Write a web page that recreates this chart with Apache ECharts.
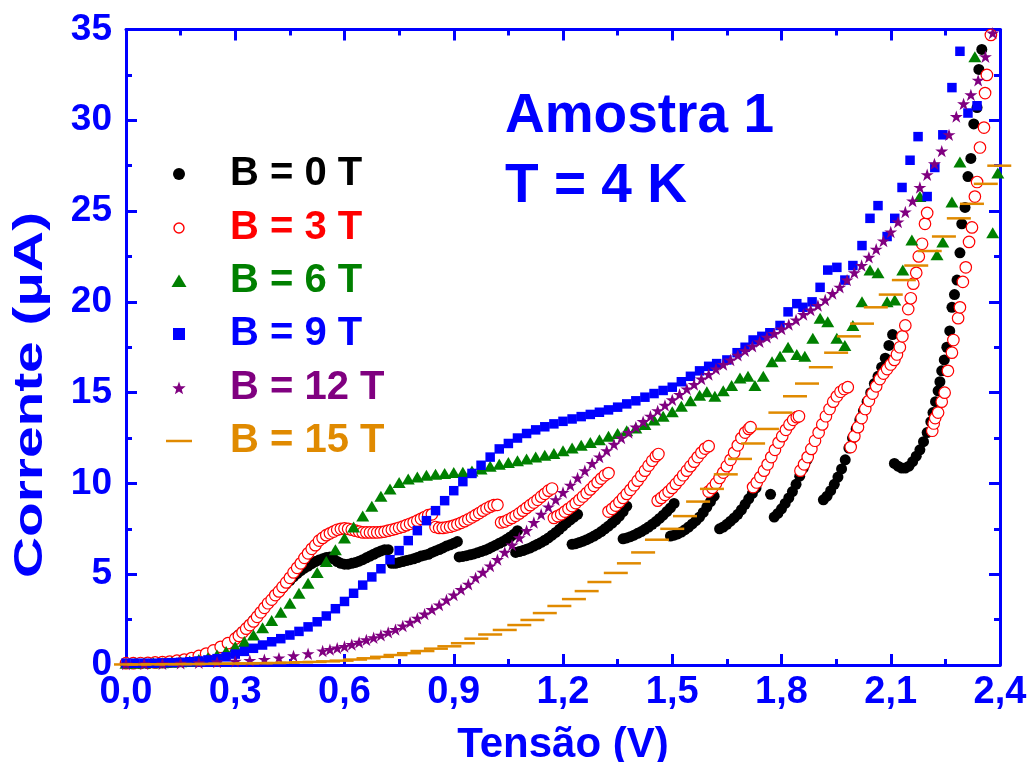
<!DOCTYPE html>
<html>
<head>
<meta charset="utf-8">
<script src="https://cdn.jsdelivr.net/npm/echarts@6/dist/echarts.min.js"></script>
<style>
  html, body { margin: 0; padding: 0; background: #fff; }
  #chart { width: 1033px; height: 762px; }
</style>
</head>
<body>
<div id="chart"></div>
<script>
// I-V curves of sample 1 at 4 K for several magnetic fields: [tensão (V), corrente (µA)]
const seriesNames = ['B = 0 T', 'B = 3 T', 'B = 6 T', 'B = 9 T', 'B = 12 T', 'B = 15 T'];
const seriesColors = ['#000000', '#ff0000', '#008000', '#0000ff', '#800080', '#e08a00'];

const xTickLabels = ['0,0', '0,3', '0,6', '0,9', '1,2', '1,5', '1,8', '2,1', '2,4'];
const yTickLabels = ['0', '5', '10', '15', '20', '25', '30', '35'];

const currentB0 = [
  [0.00,0.08],[0.02,0.09],[0.04,0.10],[0.06,0.11],[0.08,0.12],[0.10,0.14],[0.12,0.17],[0.14,0.21],
  [0.16,0.27],[0.18,0.35],[0.20,0.45],[0.22,0.58],[0.24,0.75],[0.26,0.95],[0.28,1.20],[0.30,1.50],
  [0.31,1.67],[0.32,1.85],[0.33,2.05],[0.34,2.25],[0.35,2.47],[0.36,2.70],[0.37,2.92],[0.38,3.15],
  [0.39,3.38],[0.40,3.60],[0.41,3.82],[0.42,4.05],[0.43,4.25],[0.44,4.45],[0.45,4.65],[0.46,4.85],
  [0.47,5.03],[0.48,5.20],[0.49,5.33],[0.50,5.45],[0.51,5.58],[0.52,5.70],[0.53,5.78],[0.54,5.85],
  [0.55,5.92],[0.56,5.95],
  [0.57,5.85],[0.58,5.70],[0.59,5.60],[0.60,5.55],[0.61,5.55],[0.62,5.60],[0.63,5.65],[0.64,5.72],
  [0.65,5.80],[0.66,5.90],[0.67,6.00],[0.68,6.10],[0.69,6.20],[0.70,6.28],[0.71,6.35],[0.72,6.35],
  [0.73,5.60],[0.74,5.60],[0.75,5.65],[0.76,5.70],[0.77,5.75],[0.78,5.80],[0.79,5.85],[0.80,5.92],
  [0.81,6.00],[0.82,6.05],[0.83,6.10],[0.84,6.20],[0.85,6.28],[0.86,6.36],[0.87,6.45],[0.88,6.55],
  [0.89,6.62],[0.90,6.70],[0.91,6.80],
  [0.915,5.95],[0.925,5.98],[0.935,6.02],[0.945,6.07],[0.955,6.12],[0.965,6.18],[0.975,6.25],[0.985,6.32],
  [0.995,6.40],[1.005,6.50],[1.015,6.60],[1.025,6.70],[1.035,6.80],[1.045,6.92],[1.055,7.05],[1.065,7.20],
  [1.075,7.40],
  [1.07,6.20],[1.08,6.25],[1.09,6.30],[1.10,6.38],[1.11,6.45],[1.12,6.55],[1.13,6.65],[1.14,6.75],
  [1.15,6.87],[1.16,7.00],[1.17,7.15],[1.18,7.30],[1.19,7.47],[1.20,7.65],[1.21,7.83],[1.22,8.00],
  [1.23,8.15],[1.24,8.30],
  [1.225,6.65],[1.235,6.68],[1.245,6.75],[1.255,6.82],[1.265,6.90],[1.275,7.00],[1.285,7.10],[1.295,7.22],
  [1.305,7.35],[1.315,7.50],[1.325,7.65],[1.335,7.82],[1.345,8.00],[1.355,8.20],[1.365,8.45],[1.375,8.75],
  [1.365,6.95],[1.375,7.00],[1.385,7.07],[1.395,7.15],[1.405,7.25],[1.415,7.35],[1.425,7.47],[1.435,7.60],
  [1.445,7.75],[1.455,7.90],[1.465,8.07],[1.475,8.25],[1.485,8.45],[1.495,8.65],[1.505,8.90],
  [1.495,7.10],[1.505,7.15],[1.515,7.22],[1.525,7.32],[1.535,7.45],[1.545,7.60],[1.555,7.77],[1.565,7.95],
  [1.575,8.15],[1.585,8.40],[1.595,8.70],[1.605,9.00],[1.615,9.30],
  [1.63,7.50],[1.64,7.60],[1.65,7.75],[1.66,7.92],[1.67,8.10],[1.68,8.30],[1.69,8.55],[1.70,8.85],
  [1.71,9.15],[1.72,9.45],[1.73,9.75],
  [1.77,9.40],
  [1.78,8.15],[1.79,8.35],[1.80,8.60],[1.81,8.90],[1.82,9.20],[1.83,9.55],[1.84,9.95],[1.85,10.40],
  [1.86,10.85],[1.87,11.30],
  [1.915,9.10],[1.925,9.30],[1.935,9.60],[1.945,9.95],[1.955,10.35],[1.965,10.80],[1.975,11.30],[1.985,11.95],
  [1.995,12.50],[2.005,13.00],[2.015,13.50],[2.025,14.00],[2.035,14.50],[2.045,15.00],[2.055,15.50],[2.065,15.90],
  [2.075,16.40],[2.085,16.90],[2.095,17.60],[2.105,18.20],
  [2.11,11.10],[2.12,10.95],[2.13,10.85],[2.14,10.85],[2.15,10.95],[2.16,11.20],[2.17,11.50],[2.18,11.85],
  [2.19,12.30],[2.20,12.80],[2.21,13.40],[2.216,13.90],[2.223,14.50],[2.23,15.10],[2.235,15.60],[2.24,16.20],
  [2.247,16.80],[2.254,17.50],[2.262,18.40],[2.268,19.70],[2.275,20.40],[2.282,21.20],[2.29,22.70],[2.295,24.30],
  [2.304,25.20],[2.312,26.90],[2.32,27.90],[2.328,29.80],[2.337,30.70],[2.342,32.80],[2.35,33.90]
];

const currentB3 = [
  [0.00,0.10],[0.02,0.10],[0.04,0.11],[0.06,0.12],[0.08,0.14],[0.10,0.16],[0.12,0.19],[0.14,0.24],
  [0.16,0.30],[0.18,0.38],[0.20,0.50],[0.22,0.63],[0.24,0.80],[0.26,1.00],[0.28,1.20],[0.30,1.45],
  [0.31,1.60],[0.32,1.80],[0.33,2.00],[0.34,2.20],[0.35,2.40],[0.36,2.65],[0.37,2.90],[0.38,3.15],
  [0.39,3.40],[0.40,3.60],[0.41,3.85],[0.42,4.05],[0.43,4.30],[0.44,4.55],[0.45,4.80],[0.46,5.10],
  [0.47,5.35],[0.48,5.60],[0.49,5.90],[0.50,6.15],[0.51,6.40],[0.52,6.60],[0.53,6.85],[0.54,7.00],
  [0.55,7.15],[0.56,7.25],[0.57,7.35],[0.58,7.45],[0.59,7.50],[0.60,7.52],[0.61,7.50],[0.62,7.45],
  [0.63,7.40],[0.64,7.35],[0.65,7.30],[0.66,7.30],[0.67,7.30],[0.68,7.30],[0.69,7.30],[0.70,7.32],
  [0.71,7.35],[0.72,7.40],[0.73,7.45],[0.74,7.50],[0.75,7.56],[0.76,7.62],[0.77,7.70],[0.78,7.78],
  [0.79,7.86],[0.80,7.95],[0.81,8.05],[0.82,8.15],[0.83,8.25],[0.84,8.30],
  [0.85,7.60],[0.86,7.55],[0.87,7.55],[0.88,7.58],[0.89,7.62],[0.90,7.68],[0.91,7.75],[0.92,7.83],
  [0.93,7.92],[0.94,8.02],[0.95,8.13],[0.96,8.25],[0.97,8.37],[0.98,8.50],[0.99,8.62],[1.00,8.72],
  [1.01,8.80],[1.02,8.82],
  [1.03,7.85],[1.04,7.90],[1.05,8.00],[1.06,8.10],[1.07,8.22],[1.08,8.35],[1.09,8.50],[1.10,8.65],
  [1.11,8.80],[1.12,8.95],[1.13,9.10],[1.14,9.27],[1.15,9.43],[1.16,9.60],[1.17,9.72],
  [1.175,8.10],[1.185,8.20],[1.195,8.30],[1.205,8.45],[1.215,8.60],[1.225,8.75],[1.235,8.92],[1.245,9.10],
  [1.255,9.28],[1.265,9.47],[1.275,9.67],[1.285,9.87],[1.295,10.07],[1.305,10.27],[1.315,10.45],[1.325,10.57],
  [1.325,8.45],[1.335,8.60],[1.345,8.78],[1.355,8.98],[1.365,9.20],[1.375,9.42],[1.385,9.65],[1.395,9.90],
  [1.405,10.15],[1.415,10.42],[1.425,10.70],[1.435,10.98],[1.445,11.25],[1.455,11.50],[1.462,11.62],
  [1.46,9.05],[1.47,9.20],[1.48,9.37],[1.49,9.55],[1.50,9.75],[1.51,9.97],[1.52,10.20],[1.53,10.45],
  [1.54,10.70],[1.55,10.95],[1.56,11.20],[1.57,11.45],[1.58,11.70],[1.59,11.92],[1.60,12.05],
  [1.60,9.55],[1.61,9.75],[1.62,10.00],[1.63,10.30],[1.64,10.60],[1.65,10.95],[1.66,11.30],[1.67,11.70],
  [1.68,12.10],[1.69,12.50],[1.70,12.80],[1.71,13.00],[1.715,13.10],
  [1.722,9.80],[1.732,10.05],[1.742,10.35],[1.752,10.70],[1.762,11.05],[1.772,11.45],[1.782,11.85],[1.792,12.25],
  [1.802,12.60],[1.812,12.95],[1.822,13.25],[1.832,13.50],[1.842,13.65],[1.848,13.70],
  [1.852,10.70],[1.862,11.05],[1.872,11.45],[1.882,11.90],[1.892,12.35],[1.902,12.80],[1.912,13.25],[1.922,13.70],
  [1.932,14.10],[1.942,14.50],[1.952,14.80],[1.962,15.05],[1.972,15.20],[1.982,15.30],
  [1.99,12.00],[2.00,12.60],[2.01,13.10],[2.02,13.60],[2.03,14.10],[2.04,14.55],[2.05,14.95],[2.06,15.35],
  [2.07,15.75],[2.08,16.05],[2.09,16.30],[2.10,16.55],[2.11,16.80],[2.117,17.10],[2.125,17.50],[2.132,18.10],
  [2.14,18.70],[2.148,19.60],[2.155,20.20],[2.162,21.00],[2.17,21.60],[2.177,22.50],[2.186,23.20],[2.194,24.30],
  [2.20,24.90],
  [2.214,12.90],[2.218,13.30],[2.222,13.60],[2.23,13.90],[2.24,14.50],[2.248,15.00],[2.257,16.20],[2.268,17.20],
  [2.272,17.90],[2.285,19.10],[2.29,19.70],[2.298,21.10],[2.306,21.90],[2.315,23.30],[2.323,24.10],[2.331,25.80],
  [2.337,26.60],[2.345,28.50],[2.356,29.60],[2.359,31.50],[2.364,32.50],[2.375,34.70]
];

const currentB6 = [
  [0.000,0.10],[0.025,0.10],[0.050,0.11],[0.075,0.12],[0.100,0.13],[0.125,0.15],[0.150,0.18],[0.175,0.22],
  [0.200,0.30],[0.225,0.40],[0.250,0.55],[0.275,0.75],[0.300,1.00],[0.325,1.30],[0.350,1.65],[0.375,2.05],
  [0.400,2.45],[0.425,2.90],[0.450,3.40],[0.475,3.95],[0.500,4.50],[0.525,5.10],[0.550,5.70],[0.575,6.35],
  [0.600,7.00],[0.625,7.60],[0.650,8.20],[0.675,8.75],[0.700,9.30],[0.725,9.70],[0.750,10.05],[0.775,10.25],
  [0.800,10.35],[0.825,10.45],[0.850,10.50],[0.875,10.55],[0.900,10.60],[0.925,10.62],[0.950,10.68],[0.975,10.80],
  [1.000,10.95],[1.025,11.05],[1.050,11.15],[1.075,11.25],[1.100,11.35],[1.125,11.45],[1.150,11.55],[1.175,11.65],
  [1.200,11.80],[1.225,11.95],[1.250,12.10],[1.275,12.25],[1.300,12.40],[1.325,12.60],[1.350,12.75],[1.375,12.90],
  [1.400,13.05],[1.425,13.25],[1.450,13.50],[1.475,13.70],[1.500,13.95],[1.525,14.25],[1.550,14.55],[1.575,14.85],
  [1.595,15.05],[1.617,14.80],[1.640,15.10],[1.663,15.40],[1.686,15.80],[1.708,15.90],[1.727,15.40],[1.750,15.90],
  [1.774,16.70],[1.796,17.00],[1.818,17.50],[1.842,17.10],[1.864,17.00],[1.886,18.00],[1.906,19.10],[1.927,18.90],
  [1.952,18.00],[1.974,17.60],[1.996,18.70],[2.021,20.00],[2.043,21.75],[2.065,21.60],[2.090,20.00],[2.111,20.10],
  [2.133,21.75],[2.158,23.40],[2.180,25.80],[2.227,22.60],[2.243,23.30],[2.268,25.50],[2.290,27.70],[2.331,33.50],
  [2.380,23.80],[2.394,27.10]
];

const currentB9 = [
  [0.000,0.10],[0.025,0.10],[0.050,0.10],[0.075,0.10],[0.100,0.12],[0.125,0.13],[0.150,0.15],[0.175,0.18],
  [0.200,0.22],[0.225,0.28],[0.250,0.35],[0.275,0.45],[0.300,0.60],[0.325,0.75],[0.350,0.92],[0.375,1.10],
  [0.400,1.28],[0.425,1.45],[0.450,1.65],[0.475,1.85],[0.500,2.10],[0.525,2.38],[0.550,2.70],[0.575,3.10],
  [0.600,3.50],[0.625,3.95],[0.650,4.40],[0.675,4.85],[0.700,5.30],[0.725,5.80],[0.750,6.30],[0.775,6.85],
  [0.800,7.40],[0.825,7.95],[0.850,8.50],[0.875,9.05],[0.900,9.60],[0.925,10.10],[0.950,10.55],[0.975,11.00],
  [1.000,11.45],[1.025,11.90],[1.050,12.20],[1.075,12.50],[1.100,12.75],[1.125,12.95],[1.150,13.12],[1.175,13.28],
  [1.200,13.42],[1.225,13.55],[1.250,13.68],[1.275,13.80],[1.300,13.92],[1.325,14.05],[1.350,14.20],[1.375,14.38],
  [1.400,14.55],[1.425,14.75],[1.450,14.95],[1.475,15.12],[1.500,15.30],[1.525,15.60],[1.550,15.90],[1.575,16.20],
  [1.600,16.45],[1.622,16.60],[1.650,16.80],[1.678,17.20],[1.700,17.50],[1.722,17.90],[1.746,18.10],[1.768,18.30],
  [1.796,18.70],[1.818,19.45],[1.842,19.90],[1.859,19.70],[1.884,20.00],[1.906,20.80],[1.927,21.75],[1.952,21.90],
  [1.974,21.20],[1.996,22.00],[2.021,23.10],[2.043,24.60],[2.065,25.30],[2.090,23.60],[2.111,24.60],[2.131,26.30],
  [2.153,27.80],[2.175,29.10],[2.200,25.80],[2.221,27.40],[2.243,29.20],[2.268,31.80],[2.290,33.80],[2.312,30.40],
  [2.337,30.80]
];

const currentB12 = [
  [0.00,0.05],[0.05,0.06],[0.10,0.07],[0.15,0.09],[0.20,0.12],[0.25,0.16],[0.30,0.20],[0.34,0.25],
  [0.38,0.30],[0.42,0.38],[0.46,0.50],[0.50,0.62],[0.54,0.77],[0.56,0.85],[0.58,0.93],[0.60,1.02],
  [0.62,1.12],[0.64,1.25],[0.66,1.38],[0.68,1.50],[0.70,1.64],[0.72,1.80],[0.74,1.95],[0.76,2.15],
  [0.78,2.35],[0.80,2.57],[0.82,2.80],[0.84,3.05],[0.86,3.30],[0.88,3.58],[0.90,3.85],[0.92,4.15],
  [0.94,4.45],[0.96,4.80],[0.98,5.10],[1.00,5.45],[1.02,5.80],[1.04,6.20],[1.06,6.60],[1.08,7.00],
  [1.10,7.40],[1.12,7.85],[1.14,8.30],[1.16,8.70],[1.18,9.10],[1.20,9.50],[1.22,9.90],[1.24,10.30],
  [1.26,10.70],[1.28,11.10],[1.30,11.45],[1.32,11.80],[1.34,12.15],[1.36,12.50],[1.38,12.80],[1.40,13.10],
  [1.42,13.40],[1.44,13.70],[1.46,14.00],[1.48,14.30],[1.50,14.60],[1.52,14.90],[1.54,15.20],[1.56,15.45],
  [1.58,15.75],[1.60,16.00],[1.62,16.30],[1.64,16.55],[1.66,16.80],[1.68,17.05],[1.70,17.30],[1.72,17.55],
  [1.74,17.80],[1.76,18.05],[1.78,18.25],[1.80,18.50],[1.82,18.75],[1.84,19.00],[1.86,19.30],[1.88,19.55],
  [1.90,19.80],[1.92,20.10],[1.94,20.45],[1.96,20.80],[1.98,21.20],[2.00,21.60],[2.02,22.00],[2.04,22.45],
  [2.06,22.90],[2.08,23.35],[2.10,23.85],[2.12,24.40],[2.14,24.95],[2.16,25.55],[2.18,26.30],[2.20,27.00],
  [2.22,27.60],[2.24,28.30],[2.26,29.20],[2.28,30.20],[2.30,30.90],[2.32,31.40],[2.34,32.20],[2.36,33.50],
  [2.38,34.80]
];

const currentB15 = [
  [0.000,0.03],[0.037,0.03],[0.074,0.04],[0.111,0.04],[0.148,0.05],[0.185,0.05],[0.222,0.06],[0.259,0.07],
  [0.296,0.08],[0.333,0.09],[0.370,0.10],[0.407,0.11],[0.444,0.13],[0.481,0.15],[0.518,0.17],[0.555,0.20],
  [0.592,0.24],[0.629,0.30],[0.666,0.37],[0.703,0.45],[0.740,0.55],[0.777,0.65],[0.814,0.77],[0.851,0.90],
  [0.888,1.03],[0.925,1.20],[0.962,1.45],[1.000,1.68],[1.040,1.93],[1.080,2.20],[1.116,2.48],[1.150,2.86],
  [1.190,3.25],[1.230,3.63],[1.265,4.07],[1.300,4.57],[1.345,5.07],[1.381,5.60],[1.420,6.20],[1.458,6.90],
  [1.500,7.50],[1.535,8.20],[1.571,9.00],[1.609,9.70],[1.647,10.50],[1.686,11.35],[1.722,12.20],[1.760,13.00],
  [1.797,13.90],[1.837,14.80],[1.870,15.50],[1.908,16.40],[1.950,17.20],[1.985,18.10],[2.021,18.80],[2.059,19.70],
  [2.100,20.40],[2.136,21.20],[2.170,22.00],[2.207,22.80],[2.246,23.60],[2.287,24.60],[2.323,25.40],[2.361,26.50],
  [2.398,27.50]
];

const seriesData = [currentB0, currentB3, currentB6, currentB9, currentB12, currentB15];

const FONT = '"Liberation Sans", Arial, Helvetica, sans-serif';
const AXIS_BLUE = '#0000ff';
const STAR = 'path://M50,0L61.8,35.4L100,35.4L69.1,57.3L80.9,95L50,72L19.1,95L30.9,57.3L0,35.4L38.2,35.4Z';

// marker look of each field curve
const markers = [
  { symbol: 'circle', size: 11, style: { color: '#000000' } },
  { symbol: 'circle', size: 11.5, style: { color: '#ffffff', borderColor: '#ff0000', borderWidth: 1.2 } },
  { symbol: 'triangle', size: [13, 11], style: { color: '#008000' } },
  { symbol: 'rect', size: 9.5, style: { color: '#0000ff' } },
  { symbol: STAR, size: 13, style: { color: '#800080' } },
  { symbol: 'rect', size: [24, 2.5], style: { color: '#e08a00' } }
];

// legend block at the upper left: marker sample + coloured label per row
const legendRowCenters = [174, 228, 281, 334, 388, 441];
const LEGEND_MARK_X = 179;
const LEGEND_TEXT_X = 230;

function starPoints(cx, cy, rOuter, rInner) {
  const pts = [];
  for (let k = 0; k < 10; k++) {
    const r = k % 2 === 0 ? rOuter : rInner;
    const a = -Math.PI / 2 + k * Math.PI / 5;
    pts.push([cx + r * Math.cos(a), cy + r * Math.sin(a)]);
  }
  return pts;
}

function legendMark(i, cy) {
  const x = LEGEND_MARK_X;
  const c = seriesColors[i];
  switch (i) {
    case 0: return { type: 'circle', shape: { cx: x, cy: cy, r: 6 }, style: { fill: c } };
    case 1: return { type: 'circle', shape: { cx: x, cy: cy, r: 5 }, style: { fill: '#ffffff', stroke: c, lineWidth: 1.4 } };
    case 2: return { type: 'polygon', shape: { points: [[x - 7.5, cy + 6], [x + 7.5, cy + 6], [x, cy - 6.5]] }, style: { fill: c } };
    case 3: return { type: 'rect', shape: { x: x - 6, y: cy - 6, width: 12, height: 12 }, style: { fill: c } };
    case 4: return { type: 'polygon', shape: { points: starPoints(x, cy + 0.5, 7, 2.9) }, style: { fill: c } };
    default: return { type: 'rect', shape: { x: x - 13, y: cy - 1.25, width: 26, height: 2.5 }, style: { fill: c } };
  }
}

const legendGraphics = [];
seriesNames.forEach((name, i) => {
  const cy = legendRowCenters[i];
  legendGraphics.push(Object.assign({ silent: true, z: 20 }, legendMark(i, cy)));
  legendGraphics.push({
    type: 'text', silent: true, z: 20, x: LEGEND_TEXT_X, y: cy,
    style: { text: name, fill: seriesColors[i], fontSize: 40, fontWeight: 'bold', fontFamily: FONT, align: 'left', verticalAlign: 'middle' }
  });
});

// vertical axis title, written bottom-to-top beside the tick labels
const yTitle = {
  type: 'text', silent: true, z: 20, x: 31, y: 395, rotation: Math.PI / 2, scaleX: 1.42,
  style: { text: 'Corrente (μA)', fill: AXIS_BLUE, fontSize: 40, fontWeight: 'bold', fontFamily: FONT, align: 'center', verticalAlign: 'middle' }
};

const chart = echarts.init(document.getElementById('chart'), null, { renderer: 'canvas' });

const tickStyle = { color: AXIS_BLUE, width: 3 };
function frameAxis(extra) {
  return Object.assign({
    axisLine: { show: true, onZero: false, lineStyle: { color: AXIS_BLUE, width: 3 } },
    axisTick: { show: true, inside: true, length: 11, lineStyle: tickStyle },
    minorTick: { show: true, splitNumber: 2, length: 6, lineStyle: tickStyle },
    splitLine: { show: false },
    minorSplitLine: { show: false }
  }, extra);
}

const option = {
  backgroundColor: '#ffffff',
  animation: false,
  title: {
    text: 'Amostra 1\nT = 4 K',
    left: 505,
    top: 82,
    padding: 0,
    textStyle: { color: AXIS_BLUE, fontSize: 55, fontWeight: 'bold', fontFamily: FONT, lineHeight: 70 }
  },
  graphic: legendGraphics.concat([yTitle]),
  grid: { left: 126, right: 33, top: 29.5, bottom: 97, containLabel: false, outerBoundsMode: 'none' },
  xAxis: [
    frameAxis({
      type: 'value', position: 'bottom', min: 0, max: 2.4, interval: 0.3,
      name: 'Tensão (V)', nameLocation: 'middle', nameGap: 59,
      nameTextStyle: { color: AXIS_BLUE, fontSize: 42, fontWeight: 'bold', fontFamily: FONT },
      axisLabel: {
        show: true, margin: 9, color: AXIS_BLUE, fontSize: 38, fontWeight: 'bold', fontFamily: FONT,
        showMinLabel: true, showMaxLabel: true,
        formatter: v => xTickLabels[Math.round(v / 0.3)]
      }
    }),
    frameAxis({
      type: 'value', position: 'top', min: 0, max: 2.4, interval: 0.3,
      axisLabel: { show: false }
    })
  ],
  yAxis: [
    frameAxis({
      type: 'value', position: 'left', min: 0, max: 35, interval: 5,
      axisLabel: {
        show: true, margin: 14, color: AXIS_BLUE, fontSize: 37, fontWeight: 'bold', fontFamily: FONT,
        showMinLabel: true, showMaxLabel: true,
        formatter: v => yTickLabels[Math.round(v / 5)]
      }
    }),
    frameAxis({
      type: 'value', position: 'right', min: 0, max: 35, interval: 5,
      axisLabel: { show: false }
    })
  ],
  series: seriesNames.map((name, i) => ({
    name: name,
    type: 'scatter',
    xAxisIndex: 0,
    yAxisIndex: 0,
    data: seriesData[i],
    symbol: markers[i].symbol,
    symbolSize: markers[i].size,
    symbolKeepAspect: true,
    itemStyle: Object.assign({ opacity: 1 }, markers[i].style),
    emphasis: { disabled: true },
    silent: true,
    clip: true,
    z: 2 + i
  }))
};

chart.setOption(option);
</script>
</body>
</html>
